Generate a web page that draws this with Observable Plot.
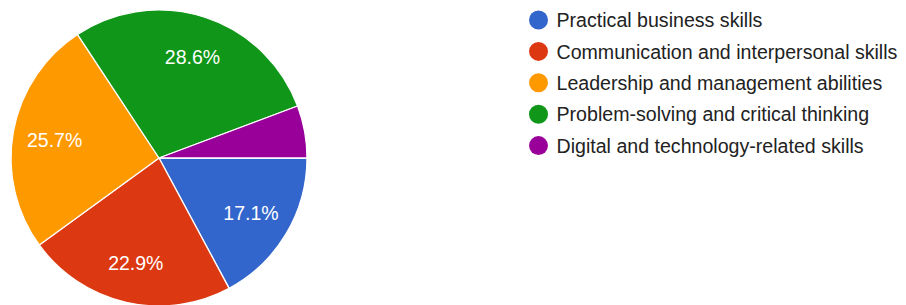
<!DOCTYPE html>
<html>
<head>
<meta charset="utf-8">
<script src="https://cdn.jsdelivr.net/npm/d3@7"></script>
<script src="https://cdn.jsdelivr.net/npm/@observablehq/plot@0.6"></script>
<style>
  html, body { margin: 0; padding: 0; background: #fff; }
  svg { display: block; }
</style>
</head>
<body>
<div id="chart"></div>
<script>
const categories = [
  "Practical business skills",
  "Communication and interpersonal skills",
  "Leadership and management abilities",
  "Problem-solving and critical thinking",
  "Digital and technology-related skills"
];
const counts = [6, 8, 9, 10, 2];
const percentLabels = ["17.1%", "22.9%", "25.7%", "28.6%", "5.7%"];
const colors = ["#3366cc", "#dc3912", "#ff9900", "#109618", "#990099"];

const W = 906, H = 305;
const cx = 159, cy = 158, R = 148;
const font = "Arial, 'Liberation Sans', sans-serif";

const rows = categories.map((c, i) => ({category: c, value: counts[i], label: percentLabels[i], i}));
const arcs = d3.pie().value(d => d.value).sort(null)
  .startAngle(Math.PI / 2).endAngle(Math.PI / 2 + 2 * Math.PI)(rows);

// label positions (data space = pixel space here)
const labelArc = d3.arc().innerRadius(R * 0.72).outerRadius(R * 0.72);
const labels = arcs
  .filter(a => (a.endAngle - a.startAngle) > 0.5)
  .map(a => { const [dx, dy] = labelArc.centroid(a); return {x: cx + dx, y: cy + dy, label: a.data.label}; });

const legend = rows.map((r, i) => ({category: r.category, x: 538, y: 19.5 + i * 31.4}));

function pieMark(index, scales) {
  const g = d3.create("svg:g");
  const px = scales.x(cx), py = scales.y(cy);
  const pr = Math.abs(scales.x(cx + R) - scales.x(cx));
  const arc = d3.arc().innerRadius(0).outerRadius(pr);
  g.attr("transform", `translate(${px},${py})`)
    .selectAll("path")
    .data(arcs)
    .join("path")
    .attr("d", arc)
    .attr("fill", d => scales.color(d.data.category))
    .attr("stroke", "#fff")
    .attr("stroke-width", 1.3)
    .attr("stroke-linejoin", "round");
  return g.node();
}

const chart = Plot.plot({
  width: W,
  height: H,
  margin: 0,
  style: {fontFamily: font, background: "#fff"},
  x: {domain: [0, W], range: [0, W], axis: null},
  y: {domain: [0, H], range: [0, H], axis: null},
  color: {domain: categories, range: colors},
  marks: [
    pieMark,
    Plot.text(labels, {x: "x", y: "y", text: "label", fill: "#fff", fontSize: 19.5, textAnchor: "middle", dy: 1}),
    Plot.dot(legend, {x: "x", y: "y", r: 9.5, fill: "category", stroke: null}),
    Plot.text(legend, {x: d => d.x + 18, y: "y", text: "category", fill: "#222", fontSize: 19.6, textAnchor: "start", dy: 1})
  ]
});
document.getElementById("chart").append(chart);
</script>
</body>
</html>
